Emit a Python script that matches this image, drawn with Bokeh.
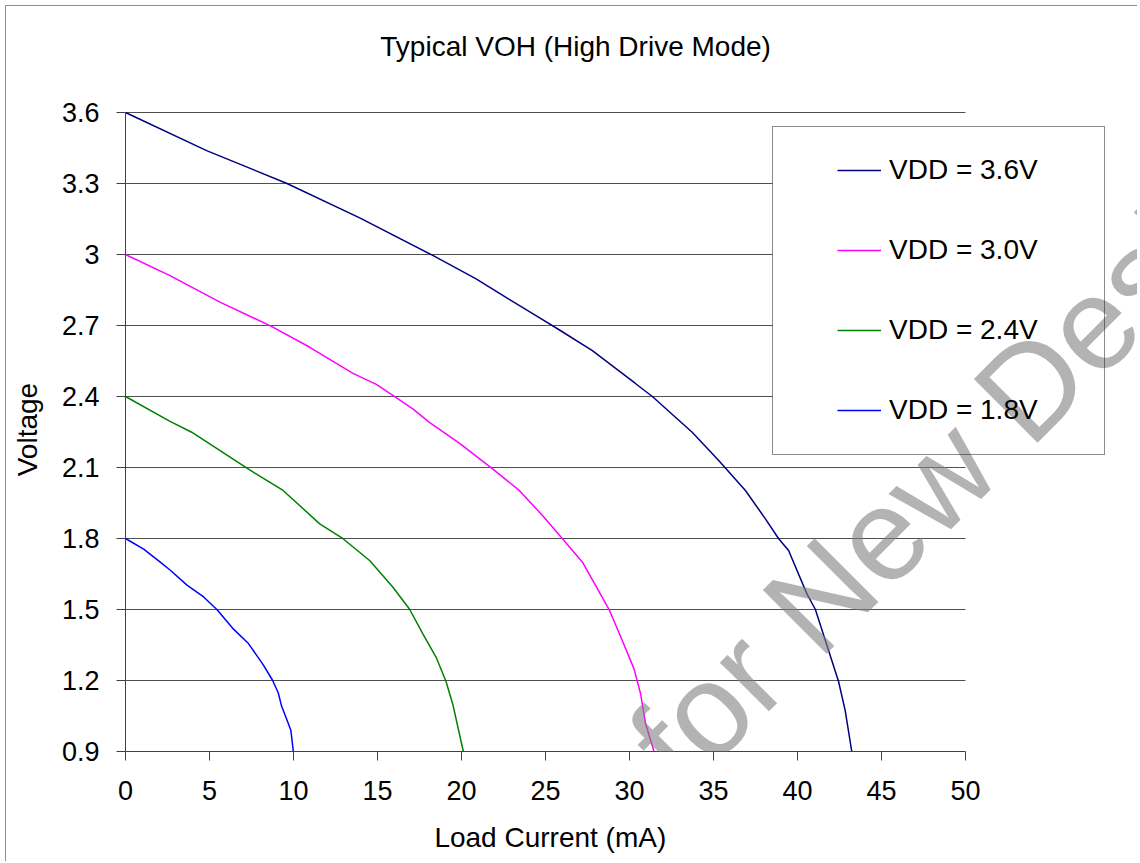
import math
from bokeh.plotting import figure
from bokeh.models import Range1d, FixedTicker, Legend, LegendItem, Label, Grid, BoxAnnotation
from bokeh.embed import file_html
from bokeh.resources import INLINE

# ---------------- data ----------------
title_text = "Typical VOH (High Drive Mode)"
x_label = "Load Current (mA)"
y_label = "Voltage"
watermark_text = "Not Recommended for New Designs"

x_ticks = [0, 5, 10, 15, 20, 25, 30, 35, 40, 45, 50]
y_ticks = [0.9, 1.2, 1.5, 1.8, 2.1, 2.4, 2.7, 3.0, 3.3, 3.6]
y_tick_labels = ["0.9", "1.2", "1.5", "1.8", "2.1", "2.4", "2.7", "3", "3.3", "3.6"]

series_names = ["VDD = 3.6V", "VDD = 3.0V", "VDD = 2.4V", "VDD = 1.8V"]
series_colors = ["#000080", "#FF00FF", "#008000", "#0000FF"]

vdd36_x = [0, 4.83, 9.58, 13.94, 18.29, 20.87, 22.94, 24.63, 25.81, 27.79, 30.37, 31.36,
           33.73, 35.31, 36.90, 38.09, 38.88, 39.47, 40.56, 41.06, 42.44, 42.84, 43.23]
vdd36_y = [3.60, 3.439, 3.301, 3.155, 2.996, 2.897, 2.806, 2.733, 2.682, 2.594, 2.454, 2.40,
           2.249, 2.130, 2.003, 1.883, 1.799, 1.749, 1.566, 1.501, 1.197, 1.073, 0.90]

vdd30_x = [0, 2.65, 5.62, 8.69, 10.97, 13.54, 14.93, 16.07, 17.10, 18.09, 19.87, 21.85,
           23.44, 24.82, 26.01, 27.20, 28.78, 29.57, 30.27, 30.66, 30.96, 31.46]
vdd30_y = [3.00, 2.911, 2.799, 2.696, 2.608, 2.498, 2.451, 2.397, 2.348, 2.291, 2.203, 2.094,
           2.003, 1.897, 1.799, 1.700, 1.501, 1.369, 1.249, 1.144, 1.017, 0.90]

vdd24_x = [0, 2.65, 3.94, 7.30, 9.38, 11.56, 12.95, 14.53, 15.92, 16.91, 17.70, 18.49,
           19.08, 19.48, 20.11]
vdd24_y = [2.40, 2.295, 2.249, 2.094, 2.003, 1.862, 1.799, 1.707, 1.594, 1.501, 1.397, 1.298,
           1.196, 1.100, 0.90]

vdd18_x = [0, 1.08, 2.07, 2.67, 3.66, 4.65, 5.44, 6.43, 7.32, 8.21, 8.76, 9.09, 9.29,
           9.68, 9.84, 9.99]
vdd18_y = [1.80, 1.755, 1.700, 1.666, 1.603, 1.553, 1.500, 1.417, 1.356, 1.265, 1.200,
           1.148, 1.092, 1.020, 0.990, 0.90]

series_x = [vdd36_x, vdd30_x, vdd24_x, vdd18_x]
series_y = [vdd36_y, vdd30_y, vdd24_y, vdd18_y]

FONT = "Liberation Sans"
NBSP = "\u00a0"

# ---------------- layout (pixels) ----------------
W, H = 1132, 856            # canvas size (page offset 6 px: 5 margin + 1 border)
LEFT, BOTTOM = 119, 111     # space for the axes
PX_PER_X = 16.8             # px per mA
PX_PER_Y = 71 / 0.3         # px per volt
X0, X1 = x_ticks[0], x_ticks[-1]
Y0, Y1 = y_ticks[0], y_ticks[-1]
x_end = X0 + (W - LEFT) / PX_PER_X
y_end = Y0 + (H - BOTTOM) / PX_PER_Y

# legend box, in px from the frame's bottom-left corner
LB_X, LB_Y, LB_W, LB_H = 647, 296, 331, 327

p = figure(width=W, height=H, output_backend="svg", toolbar_location=None,
           x_range=Range1d(X0, x_end), y_range=Range1d(Y0, y_end),
           min_border_left=LEFT, min_border_right=0, min_border_top=0,
           min_border_bottom=BOTTOM)
p.styles = {"margin-left": "5px", "margin-top": "5px",
            "border-left": "1px solid #8c8c8c", "border-top": "1px solid #8c8c8c"}
p.outline_line_color = None
p.background_fill_color = "white"
p.border_fill_color = "white"

for ax in (p.xaxis[0], p.yaxis[0]):
    ax.axis_line_color = "#404040"
    ax.major_tick_line_color = "#404040"
    ax.major_tick_out = 9
    ax.major_tick_in = 0
    ax.minor_tick_line_color = None
    ax.major_label_text_font = FONT
    ax.major_label_text_font_size = "27px"
    ax.major_label_text_color = "black"
    ax.axis_label_text_font = FONT
    ax.axis_label_text_font_size = "28px"
    ax.axis_label_text_font_style = "normal"
    ax.axis_label_text_color = "black"

p.xaxis.ticker = FixedTicker(ticks=x_ticks)
p.yaxis.ticker = FixedTicker(ticks=y_ticks)
p.xaxis.bounds = (X0, X1)
p.yaxis.bounds = (Y0, Y1)
p.yaxis.major_label_overrides = dict(zip(y_ticks, y_tick_labels))
# axis titles are centred on the (wider) frame: trailing no-break spaces re-centre them
p.xaxis.axis_label = x_label + NBSP * 21
p.yaxis.axis_label = y_label + NBSP * 13
p.xaxis.major_label_standoff = 20
p.yaxis.major_label_standoff = 17
p.xaxis.axis_label_standoff = 19
p.yaxis.axis_label_standoff = 16

p.xgrid.visible = False
if "cross_bounds" in Grid.properties():
    p.ygrid.cross_bounds = (X0, X1)
    p.ygrid.grid_line_color = "#505050"
    p.ygrid.grid_line_width = 1
else:
    p.ygrid.visible = False
    gy = [t for t in y_ticks if t != Y0]
    p.segment(x0=[X0] * len(gy), x1=[X1] * len(gy), y0=gy, y1=gy,
              line_color="#505050", line_width=1, level="underlay")

# white backing of the legend (below the watermark, above the grid)
p.add_layout(BoxAnnotation(left=X0 + LB_X / PX_PER_X, right=X0 + (LB_X + LB_W) / PX_PER_X,
                           bottom=Y0 + LB_Y / PX_PER_Y, top=Y0 + (LB_Y + LB_H) / PX_PER_Y,
                           fill_color="white", fill_alpha=1.0, line_color=None,
                           level="underlay"))

renderers = []
for xs, ys, c in zip(series_x, series_y, series_colors):
    r = p.line(xs, ys, line_color=c, line_width=1.5)
    renderers.append(r)

# legend frame (border only)
dummy = p.line([], [], line_alpha=0)
box_legend = Legend(items=[LegendItem(label=" ", renderers=[dummy])],
                    location=(LB_X, LB_Y), padding=0, margin=0, spacing=0,
                    glyph_width=LB_W, glyph_height=LB_H, label_width=0, label_height=0,
                    label_standoff=0, label_text_font_size="1px", label_text_alpha=0,
                    border_line_color="#1a1a1a", border_line_width=1,
                    background_fill_alpha=0)
p.add_layout(box_legend, "center")

# legend entries
item_legend = Legend(items=[LegendItem(label=n, renderers=[r]) for n, r in zip(series_names, renderers)],
                     location=(712, 325), padding=0, margin=0, spacing=48,
                     glyph_width=44, glyph_height=32, label_height=32,
                     label_standoff=8, label_text_font=FONT, label_text_font_size="28px",
                     label_text_color="black", border_line_alpha=0, background_fill_alpha=0)
p.add_layout(item_legend, "center")

# title
p.add_layout(Label(x=26.79, y=3.880, text=title_text, text_align="center",
                   text_baseline="alphabetic", text_font=FONT, text_font_size="28px",
                   text_color="black"))

# watermark (on top, semi-transparent)
p.add_layout(Label(x=27.11, y=0.547, text=watermark_text, angle=math.pi / 4,
                   text_align="center", text_baseline="alphabetic", text_font=FONT,
                   text_font_size="131px", text_color="#808080", text_alpha=0.6,
                   level="overlay"))

open("out.html", "w").write(file_html(p, INLINE))
